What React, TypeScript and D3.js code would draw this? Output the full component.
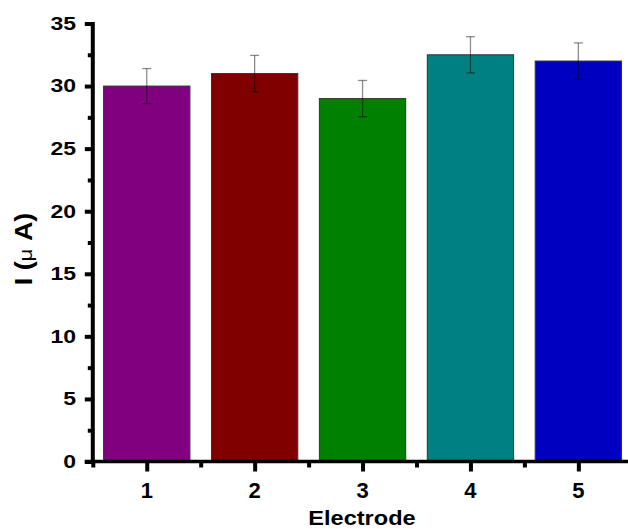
import React, { useEffect, useRef } from 'react';
import * as d3 from 'd3';

const electrodes = [1, 2, 3, 4, 5];
const currents = [30, 31, 29, 32.5, 32];
const errors = [1.4, 1.45, 1.45, 1.45, 1.45];
const barColors = ['#800080', '#800000', '#008000', '#008080', '#0000C0'];
const yTicks = [0, 5, 10, 15, 20, 25, 30, 35];
const yMinorTicks = [2.5, 7.5, 12.5, 17.5, 22.5, 27.5, 32.5];
const xMinorTicks = [0.5, 1.5, 2.5, 3.5, 4.5, 5.5];

const width = 628;
const height = 529;
const font = "'Liberation Sans', Arial, sans-serif";

const App = () => {
  const svgRef = useRef<SVGSVGElement>(null);

  useEffect(() => {
    const svg = d3.select(svgRef.current);
    svg.selectAll('*').remove();

    const x = d3.scaleLinear().domain([0.5, 5.5]).range([92.8, 632.3]);
    const y = d3.scaleLinear().domain([0, 35]).range([461.5, 23.5]);
    const step = x(2) - x(1);
    const barW = step * 0.8;

    const data = electrodes.map((e, i) => ({ e, v: currents[i], err: errors[i], c: barColors[i] }));

    // bars
    svg.append('g')
      .selectAll('rect')
      .data(data)
      .enter()
      .append('rect')
      .attr('x', d => x(d.e) - barW / 2)
      .attr('y', d => y(d.v))
      .attr('width', barW)
      .attr('height', d => y(0) - y(d.v))
      .attr('fill', d => d.c)
      .attr('stroke', '#333')
      .attr('stroke-width', 1);

    // error bars
    const eb = svg.append('g')
      .attr('stroke', 'rgba(0,0,0,0.45)')
      .attr('stroke-width', 1.3);
    data.forEach(d => {
      const cx = x(d.e);
      eb.append('line').attr('x1', cx).attr('x2', cx).attr('y1', y(d.v + d.err)).attr('y2', y(d.v - d.err));
      eb.append('line').attr('x1', cx - 4.5).attr('x2', cx + 4.5).attr('y1', y(d.v + d.err)).attr('y2', y(d.v + d.err));
      eb.append('line').attr('x1', cx - 4.5).attr('x2', cx + 4.5).attr('y1', y(d.v - d.err)).attr('y2', y(d.v - d.err));
    });

    // y axis ticks
    const yAxis = svg.append('g').attr('transform', `translate(${x(0.5)},0)`);
    yAxis.call(d3.axisLeft(y).tickValues(yTicks).tickSize(8).tickFormat(() => ''))
      .call(g => g.select('.domain').remove());
    yAxis.selectAll('line').attr('stroke', '#000').attr('stroke-width', 4);
    const yMinor = svg.append('g').attr('transform', `translate(${x(0.5)},0)`);
    yMinor.call(d3.axisLeft(y).tickValues(yMinorTicks).tickSize(5).tickFormat(() => ''))
      .call(g => g.select('.domain').remove());
    yMinor.selectAll('line').attr('stroke', '#000').attr('stroke-width', 4);
    svg.append('line')
      .attr('x1', x(0.5)).attr('x2', x(0.5))
      .attr('y1', y(0) + 2).attr('y2', y(35) - 1.5)
      .attr('stroke', '#000').attr('stroke-width', 4);

    // y tick labels (wide bold face)
    svg.append('g')
      .selectAll('text')
      .data(yTicks)
      .enter()
      .append('text')
      .attr('transform', d => `translate(76,${y(d) + 6.4}) scale(1.3,1)`)
      .attr('text-anchor', 'end')
      .style('font-family', font)
      .style('font-weight', 'bold')
      .style('font-size', '17.7px')
      .text(d => d3.format('d')(d));

    // x axis ticks
    const xAxis = svg.append('g').attr('transform', `translate(0,${y(0)})`);
    xAxis.call(d3.axisBottom(x).tickValues(electrodes).tickSize(10).tickFormat(() => ''))
      .call(g => g.select('.domain').remove());
    xAxis.selectAll('line').attr('stroke', '#000').attr('stroke-width', 4);
    const xMinor = svg.append('g').attr('transform', `translate(0,${y(0)})`);
    xMinor.call(d3.axisBottom(x).tickValues(xMinorTicks).tickSize(6).tickFormat(() => ''))
      .call(g => g.select('.domain').remove());
    xMinor.selectAll('line').attr('stroke', '#000').attr('stroke-width', 4);
    svg.append('line')
      .attr('x1', x(0.5) - 8).attr('x2', width)
      .attr('y1', y(0)).attr('y2', y(0))
      .attr('stroke', '#000').attr('stroke-width', 3.5);

    svg.append('g')
      .selectAll('text')
      .data(electrodes)
      .enter()
      .append('text')
      .attr('x', d => x(d))
      .attr('y', 498)
      .attr('text-anchor', 'middle')
      .style('font-family', font)
      .style('font-weight', 'bold')
      .style('font-size', '22px')
      .text(d => String(d));

    // axis titles
    svg.append('text')
      .attr('transform', 'translate(362,524.5) scale(1.15,1)')
      .attr('text-anchor', 'middle')
      .style('font-family', font)
      .style('font-weight', 'bold')
      .style('font-size', '20.5px')
      .text('Electrode');

    const yTitle = svg.append('text')
      .attr('transform', 'translate(31.5,249) rotate(-90) scale(1.17,1)')
      .attr('text-anchor', 'middle')
      .style('font-family', font)
      .style('font-weight', 'bold')
      .style('font-size', '23px');
    yTitle.append('tspan').text('I (');
    yTitle.append('tspan').style('font-weight', 'normal').style('font-size', '19px').text('μ');
    yTitle.append('tspan').text(' A)');
  }, []);

  return (
    <svg
      ref={svgRef}
      width={width}
      height={height}
      style={{ position: 'absolute', left: 0, top: 0, background: '#fff' }}
    />
  );
};

export default App;
